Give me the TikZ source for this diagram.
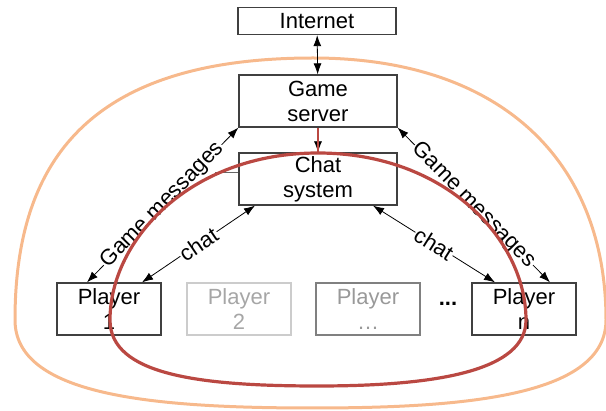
\documentclass[tikz,border=0pt]{standalone}
\usepackage{fontspec}
\setmainfont{Liberation Sans}
\usetikzlibrary{arrows.meta,positioning}
\definecolor{domeorange}{RGB}{247,185,140}
\definecolor{loopred}{RGB}{186,72,66}

\begin{document}
\begin{tikzpicture}[x=1pt,y=-1pt,
  txt/.style={font=\fontsize{22}{25}\selectfont},
  box/.style={txt,draw=black!75,line width=1.3pt,minimum height=52pt,minimum width=158pt,inner sep=0pt,align=center},
  pl/.style={box,minimum width=104pt},
  biarrow/.style={line width=0.8pt,{Latex[length=11pt,width=8pt]}-{Latex[length=11pt,width=8pt]}},
  lab/.style={txt,fill=white,inner sep=1pt,sloped},
  dome/.style={draw=domeorange,line width=3pt},
  chatloop/.style={draw=loopred,line width=3.2pt}]
\useasboundingbox (0,0) rectangle (606,411);
\draw[dome] (313,58) .. controls (90,58) and (15,160) .. (15,320)
  .. controls (15,395) and (150,408) .. (313,408)
  .. controls (470,408) and (606,395) .. (606,320)
  .. controls (606,160) and (500,58) .. (313,58);
\node[box,minimum height=27pt] (inet) at (317,21) {Internet};
\node[box] (gs) at (318,101) {Game\\server};
\node[box] (chat) at (318,179) {Chat\\system};
\node[pl] (p1) at (109,309) {Player\\1};
\node[pl,draw=black!20,text=black!35] (p2) at (239,309) {Player\\2};
\node[pl,draw=black!50,text=black!40] (pk) at (368,309) {Player\\\dots};
\node[txt,font=\bfseries\fontsize{22}{25}\selectfont] (dots) at (448,304) {...};
\node[pl] (pn) at (524,309) {Player\\n};
\coordinate (stub) at (215,173);
\draw[black!60,line width=1pt] (stub) -- ([yshift=6pt]chat.west);
\draw[biarrow] (inet) -- (gs);
\draw[line width=0.8pt,-{Latex[length=11pt,width=8pt]}] (gs) -- (chat);
\draw[biarrow] (gs.south west) -- node[lab]{Game messages} ([xshift=-22pt]p1.north);
\draw[biarrow] (gs.south east) -- node[lab]{Game messages} ([xshift=26pt]pn.north);
\draw[biarrow] ([xshift=-63pt]chat.south) -- node[lab]{chat} ([xshift=33pt]p1.north);
\draw[biarrow] ([xshift=55pt]chat.south) -- node[lab]{chat} ([xshift=-29pt]pn.north);
\draw[chatloop,line width=2pt] (gs.south) -- (chat.north);
\draw[chatloop] (318,153) .. controls (190,153) and (110,240) .. (110,320)
  .. controls (110,375) and (200,386) .. (318,386)
  .. controls (440,386) and (526,370) .. (526,320)
  .. controls (526,240) and (446,153) .. (318,153);
\end{tikzpicture}
\end{document}
